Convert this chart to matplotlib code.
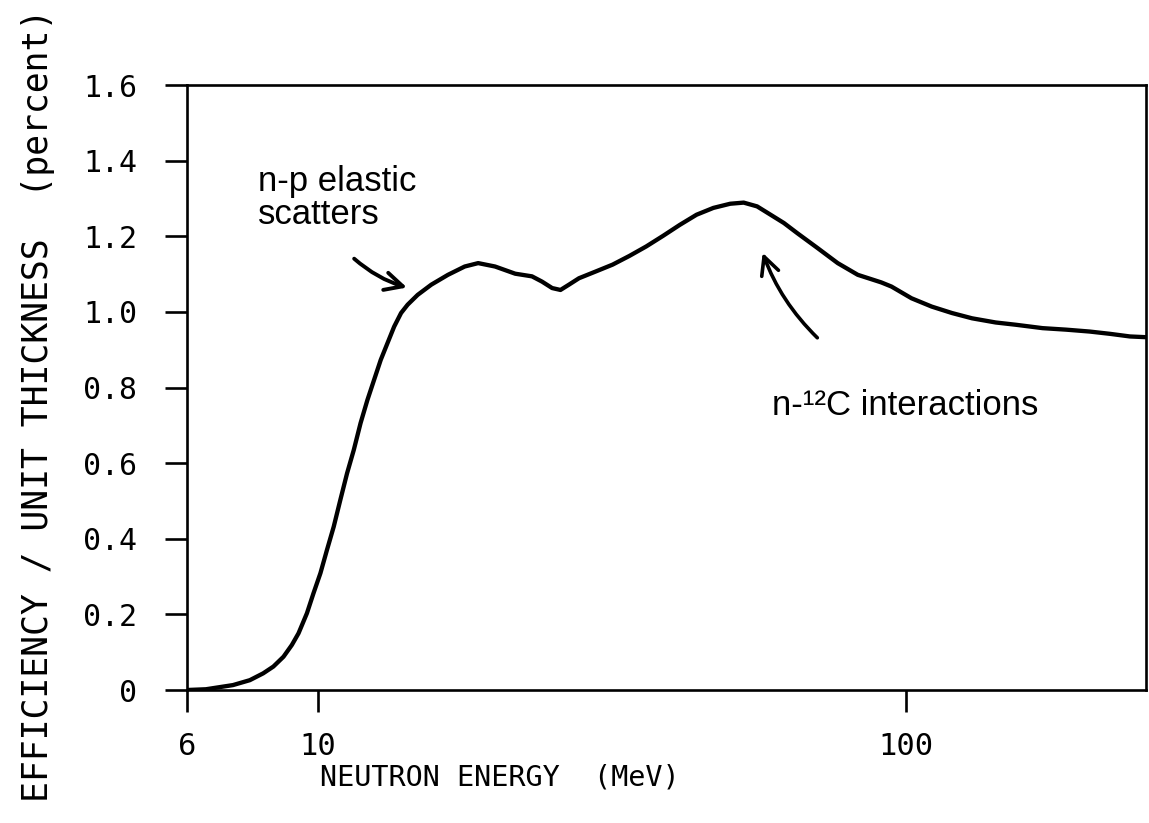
import matplotlib
matplotlib.use('Agg')
import matplotlib.pyplot as plt
from matplotlib.ticker import FixedLocator, NullLocator

# efficiency curve (MeV, percent)
energy = [6.0, 6.46, 7.18, 7.67, 8.08, 8.41, 8.75, 9.04, 9.28, 9.59,
          9.84, 10.11, 10.37, 10.65, 10.93, 11.22, 11.52, 11.83, 12.15, 12.47,
          12.80, 13.14, 13.49, 13.86, 14.22, 14.79, 15.60, 16.65, 17.78, 18.74,
          20.02, 21.66, 23.13, 24.06, 25.03, 25.86, 26.73, 27.80, 29.70, 31.71,
          33.86, 36.16, 38.62, 41.23, 44.04, 47.03, 50.23, 52.95, 55.81, 58.82,
          61.98, 65.33, 70.67, 76.49, 82.75, 90.7, 94.4, 102.1, 110.5, 119.6,
          129.4, 141.9, 153.5, 170.5, 187.0, 205.0, 221.8, 240.0, 256.2]
efficiency = [0.0, 0.002, 0.013, 0.026, 0.044, 0.062, 0.088, 0.119, 0.150, 0.203,
              0.256, 0.309, 0.370, 0.432, 0.503, 0.573, 0.635, 0.706, 0.767, 0.820,
              0.873, 0.917, 0.961, 0.997, 1.019, 1.045, 1.072, 1.098, 1.120, 1.129,
              1.120, 1.101, 1.094, 1.080, 1.063, 1.058, 1.072, 1.089, 1.107, 1.125,
              1.148, 1.173, 1.201, 1.230, 1.257, 1.275, 1.286, 1.289, 1.279, 1.257,
              1.235, 1.208, 1.169, 1.129, 1.098, 1.078, 1.067, 1.036, 1.014, 0.997,
              0.983, 0.972, 0.966, 0.957, 0.953, 0.948, 0.942, 0.935, 0.933]

x_ticks = [6, 10, 100]
x_ticklabels = ['6', '10', '100']
y_ticks = [0, 0.2, 0.4, 0.6, 0.8, 1.0, 1.2, 1.4, 1.6]
y_ticklabels = ['0', '0.2', '0.4', '0.6', '0.8', '1.0', '1.2', '1.4', '1.6']

MONO = 'DejaVu Sans Mono'
SANS = 'Liberation Sans'

fig = plt.figure(figsize=(11.49, 8.23), dpi=100)
ax = fig.add_axes([0.1628, 0.1616, 0.835, 0.7351])

ax.plot(energy, efficiency, color='black', lw=3.1,
        solid_joinstyle='round', solid_capstyle='round')

ax.set_xscale('log')
ax.set_xlim(6, 256)
ax.set_ylim(0, 1.6)

ax.xaxis.set_major_locator(FixedLocator(x_ticks))
ax.xaxis.set_minor_locator(NullLocator())
ax.set_xticklabels(x_ticklabels, fontfamily=MONO, fontsize=22)
ax.set_yticks(y_ticks)
ax.set_yticklabels(y_ticklabels, fontfamily=MONO, fontsize=21.5)
ax.tick_params(axis='both', direction='out', length=16, width=1.9)
ax.tick_params(axis='y', pad=20)
ax.tick_params(axis='x', pad=14)

for sp in ax.spines.values():
    sp.set_linewidth(1.9)

ax.set_xlabel('NEUTRON ENERGY  (MeV)', fontfamily=MONO, fontsize=20.5)
ax.xaxis.set_label_coords(0.326, -0.122)
ax.set_ylabel('EFFICIENCY / UNIT THICKNESS  (percent)', fontfamily=MONO, fontsize=25)
ax.yaxis.set_label_coords(-0.1375, 0.471)

# annotations
ax.text(0.074, 0.868, 'n-p elastic\nscatters', transform=ax.transAxes,
        fontfamily=SANS, fontsize=25, va='top', ha='left', linespacing=1.0)
ax.annotate('', xy=(0.232, 0.664), xytext=(0.172, 0.716),
            xycoords='axes fraction', textcoords='axes fraction',
            arrowprops=dict(arrowstyle='->', lw=2.8, color='black',
                            connectionstyle='arc3,rad=0.12',
                            mutation_scale=32))

ax.text(0.610, 0.4545, 'n-¹²C interactions', transform=ax.transAxes,
        fontfamily=SANS, fontsize=25, va='baseline', ha='left')
ax.annotate('', xy=(0.599, 0.727), xytext=(0.659, 0.579),
            xycoords='axes fraction', textcoords='axes fraction',
            arrowprops=dict(arrowstyle='->', lw=2.6, color='black',
                            connectionstyle='arc3,rad=-0.12',
                            mutation_scale=32))

fig.savefig('out.png', dpi=100)
